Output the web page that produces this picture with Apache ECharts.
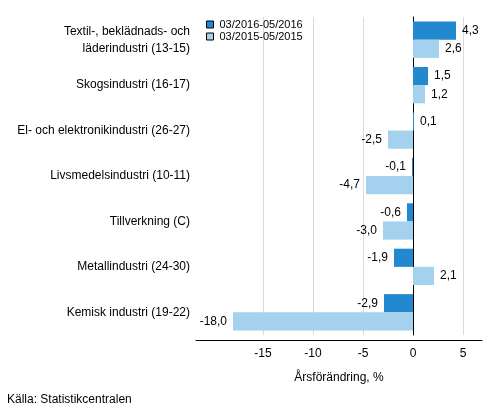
<!DOCTYPE html>
<html>
<head>
<meta charset="utf-8">
<script src="https://cdn.jsdelivr.net/npm/echarts@6/dist/echarts.min.js"></script>
<style>
  html, body { margin: 0; padding: 0; background: #fff; }
  #chart { width: 493px; height: 416px; }
</style>
</head>
<body>
<div id="chart"></div>
<script>
// branscher, uppifrån och ned
let categories = [
    'Textil-, beklädnads- och\nläderindustri (13-15)',
    'Skogsindustri (16-17)',
    'El- och elektronikindustri (26-27)',
    'Livsmedelsindustri (10-11)',
    'Tillverkning (C)',
    'Metallindustri (24-30)',
    'Kemisk industri (19-22)'
];
let seriesNames = ['03/2016-05/2016', '03/2015-05/2015'];
let values2016 = [4.3, 1.5, 0.1, -0.1, -0.6, -1.9, -2.9];
let values2015 = [2.6, 1.2, -2.5, -4.7, -3.0, 2.1, -18.0];
let tickValues = [-15, -10, -5, 0, 5];

let fontFam = '"Liberation Sans", Arial, sans-serif';

var chart = echarts.init(document.getElementById('chart'));

function barLabel(p) {
    return p.value.toFixed(1).replace('.', ',');
}

function makeData(vals) {
    return vals.map(function (v) {
        return {
            value: v,
            label: { position: v < 0 ? 'left' : 'right' }
        };
    });
}

option = {
    animation: false,
    textStyle: { fontFamily: fontFam },
    grid: { left: 196, right: 11, top: 17, bottom: 81, containLabel: false },
    legend: {
        orient: 'vertical',
        left: 201,
        top: 14,
        itemWidth: 7,
        itemHeight: 7,
        itemGap: 1,
        icon: 'rect',
        data: seriesNames.map(function (n) {
            return { name: n, itemStyle: { borderColor: '#000', borderWidth: 1 } };
        }),
        textStyle: { fontSize: 11, color: '#000', fontFamily: fontFam, padding: [0, 0, 0, 1] }
    },
    xAxis: {
        type: 'value',
        min: -21.7,
        max: 6.9,
        offset: 5,
        name: 'Årsförändring, %',
        nameLocation: 'middle',
        nameGap: 32,
        nameTextStyle: { fontSize: 12, color: '#000', fontFamily: fontFam },
        axisLine: { show: true, onZero: false, lineStyle: { color: '#000', width: 1 } },
        axisTick: { show: false, customValues: tickValues },
        axisLabel: { customValues: tickValues, fontSize: 12, color: '#000', margin: 8, fontFamily: fontFam },
        splitLine: { show: true, lineStyle: { color: '#d9d9d9', width: 1 } }
    },
    yAxis: {
        type: 'category',
        inverse: true,
        data: categories,
        axisLine: { show: true, onZero: true, lineStyle: { color: '#000', width: 1 } },
        axisTick: { show: false },
        axisLabel: {
            fontSize: 12,
            color: '#000',
            lineHeight: 17,
            align: 'right',
            margin: 6,
            fontFamily: fontFam
        },
        splitLine: { show: false }
    },
    series: [
        {
            name: seriesNames[0],
            type: 'bar',
            data: makeData(values2016),
            itemStyle: { color: '#2288d0' },
            barGap: '0%',
            barCategoryGap: '20%',
            label: { show: true, formatter: barLabel, fontSize: 12, color: '#000', distance: 6 }
        },
        {
            name: seriesNames[1],
            type: 'bar',
            data: makeData(values2015),
            itemStyle: { color: '#a3d1ee' },
            barGap: '0%',
            barCategoryGap: '20%',
            label: { show: true, formatter: barLabel, fontSize: 12, color: '#000', distance: 6 }
        }
    ],
    graphic: [
        {
            type: 'text',
            left: 7,
            top: 394,
            style: { text: 'Källa: Statistikcentralen', fontSize: 12, fill: '#000', fontFamily: fontFam }
        }
    ]
};

chart.setOption(option);
</script>
</body>
</html>
